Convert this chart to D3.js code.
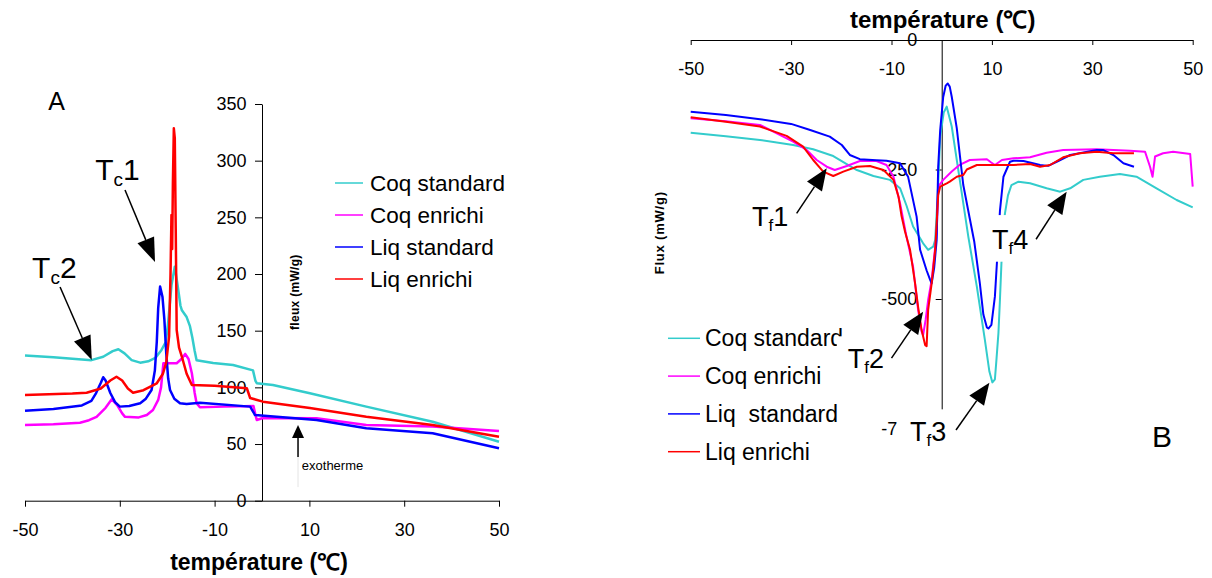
<!DOCTYPE html>
<html>
<head>
<meta charset="utf-8">
<script src="https://cdn.jsdelivr.net/npm/d3@7"></script>
<style>
  html, body { margin: 0; padding: 0; background: #fff; }
  svg { display: block; font-family: "Liberation Sans", Arial, sans-serif; }
</style>
</head>
<body>
<svg id="chart" width="1212" height="578"></svg>
<script>
// ---- Series names and colours ----
const seriesNames = ["Coq standard", "Coq enrichi", "Liq standard", "Liq enrichi"];
const seriesNamesB = ["Coq standard", "Coq enrichi", "Liq  standard", "Liq enrichi"];
const seriesColors = ["#33CCCC", "#FF00FF", "#0000FF", "#FF0000"];

// ---- Tick values ----
const ticksTempA = [-50, -30, -10, 10, 30, 50];
const ticksFluxA = [0, 50, 100, 150, 200, 250, 300, 350];
const ticksTempB = [-50, -30, -10, 10, 30, 50];
const ticksFluxB = [0, -250, -500, -750];

// ---- A : cooling curves, [température °C, flux mW/g] ----
const coqStdA = [[-50,128],[-44,126.5],[-38,124.5],[-36,124],[-33.5,127],[-31.5,132],[-30.3,133.6],[-29,130],[-27.5,124],[-25.7,121.8],[-24,123],[-22.5,126],[-21.2,133],[-20.3,140],[-19.8,157],[-19.1,190],[-18.4,206.5],[-17.8,190],[-17.2,172],[-16.9,168],[-15.9,162],[-15.2,154],[-14.7,144],[-14.2,132],[-13.8,124],[-10.3,121.5],[-6.1,119.7],[-1.9,115],[-1.4,106],[-1.1,103.6],[2.3,102],[10.1,94.8],[22,83],[36,69.7],[50,52]];
const coqEnrA = [[-50,66.8],[-44,67.5],[-38.4,68.8],[-36.5,71],[-34.9,74],[-33,82],[-31.7,89.5],[-30.5,84],[-29.5,77],[-28.9,74],[-26,73.5],[-24.3,75.6],[-23,80],[-21.9,88.9],[-21.3,100],[-20.8,121.3],[-18,121.3],[-17,125],[-16.2,129.5],[-15.5,125],[-14.8,112.4],[-14.2,95],[-13.8,86],[-13.1,82.4],[-8,83],[-1.8,83.6],[-1.4,76],[-1.1,71.2],[0.2,73],[11.5,72.7],[22,66.8],[36,65.5],[50,61.5]];
const liqStdA = [[-50,79.4],[-44,81],[-38,84],[-36,88],[-35,95],[-34,104],[-33.5,108.9],[-33,106],[-32,95],[-31,87],[-30,83],[-28,83.5],[-25.7,86],[-24.5,90],[-23.3,97.7],[-22.6,115],[-22.2,140],[-21.9,170],[-21.5,188.9],[-21,180],[-20.6,160],[-20.2,130],[-19.8,108],[-19.4,97.7],[-18.5,90],[-17.3,86],[-15.9,85.3],[-13.1,86.5],[-2.5,83],[-1.8,78],[-1.5,75.6],[3.1,74],[11.5,71.2],[22,63.9],[36,59.5],[50,46.2]];
const liqEnrA = [[-50,93.3],[-40,94.5],[-37,95.3],[-34,99],[-32,106],[-30.7,109.4],[-29.5,106],[-28.3,99],[-27.2,95.3],[-25,97.5],[-22.2,103.6],[-20.9,112],[-20.2,122],[-19.6,145],[-19.3,200],[-19.1,252],[-18.95,222],[-18.8,280],[-18.6,328.6],[-18.4,320],[-18.2,240],[-18,150.6],[-17.5,135],[-16.9,127],[-15.9,112],[-14.8,102],[-10,101.5],[-3.2,99.2],[-2.5,90.6],[0.2,87.4],[10.1,81.8],[22,74],[36,66.8],[50,56.5]];

// ---- B : heating curves, [température °C, flux mW/g] ----
const coqStdB = [[-50,-179],[-43,-186],[-36.2,-193],[-29.6,-202.7],[-25.6,-211],[-21.6,-224],[-16.9,-251],[-13.6,-262.5],[-10.3,-270],[-8.3,-286],[-7,-320],[-5.7,-360],[-3.7,-392.5],[-2.7,-405],[-1.7,-399],[-1.3,-386],[-0.8,-300],[-0.3,-186.7],[0.4,-140],[1,-128.7],[2,-167],[3.6,-270],[5.3,-379.7],[7,-476],[8.6,-579],[9.5,-640],[10.1,-661],[10.6,-655],[10.9,-618],[11.3,-566],[11.6,-502],[11.9,-431],[12.3,-360],[12.6,-334.6],[13.2,-300],[13.9,-280],[15.3,-273.5],[17.6,-276.7],[20.9,-286.3],[23.6,-292.8],[25.6,-286.3],[28.2,-270],[31.5,-263.9],[35.5,-258.7],[38.8,-263.9],[42.8,-286.3],[46.8,-308.9],[50,-323]];
const coqEnrB = [[-50,-151],[-43,-157],[-36.2,-164],[-29.6,-196],[-26.9,-212.4],[-24.9,-231.7],[-22.9,-244.6],[-21.3,-251],[-18.9,-243.2],[-16.3,-233.6],[-13,-233.6],[-11,-241.3],[-9.6,-263.9],[-8.3,-315],[-7,-380],[-5.7,-437.6],[-4.7,-521],[-4,-563],[-3.7,-569.5],[-3.2,-540],[-2.7,-502],[-2,-463],[-1,-373],[-0.7,-283],[0.3,-270],[2,-254],[3.6,-241],[5.6,-231.7],[9,-230.3],[9.8,-236],[10.6,-241.3],[12,-231.7],[14.3,-228.4],[17.6,-226.4],[20.9,-217.6],[24.2,-212.4],[30.9,-211],[37.5,-213.7],[40.5,-215.6],[41.5,-244.6],[42,-264],[42.5,-225],[44.1,-218.7],[46.1,-215.6],[49.5,-220],[50,-283]];
const liqStdB = [[-50,-138.4],[-43,-145],[-36.2,-153],[-30,-162],[-26.2,-173.7],[-22.3,-186.6],[-19.9,-202.7],[-18.3,-222],[-16.3,-230],[-13,-232],[-11,-233],[-8.3,-238],[-6.7,-263.8],[-5,-341],[-4.3,-405],[-3,-445],[-2.3,-463],[-2,-470],[-1.5,-440],[-1,-386],[-0.7,-244.6],[-0.3,-174],[0.3,-110],[0.8,-88],[1.2,-84],[1.6,-90],[2,-109.5],[3,-170],[4.3,-280],[5.6,-345],[6.5,-390],[7.6,-470],[8.3,-530],[9,-555],[9.3,-557],[9.9,-550],[10.6,-495],[11,-430],[11.3,-380],[11.6,-330],[12.3,-264],[13.6,-235],[14.3,-233],[16.3,-233.6],[19.6,-241.3],[21.2,-243],[22.9,-235],[25.6,-222],[30.9,-212.4],[32.2,-212.4],[34.2,-222],[36.2,-238],[38.3,-244.6]];
const liqEnrB = [[-50,-149],[-43,-158],[-36.2,-167],[-30.9,-185],[-27.6,-206],[-25.6,-231.7],[-23.6,-254],[-21.6,-262.5],[-19.6,-254],[-16.9,-244.6],[-14.3,-243.2],[-11.6,-251],[-9.6,-270],[-8.6,-302.5],[-8,-340],[-7.3,-370],[-6.3,-405],[-5.3,-470],[-4.7,-515],[-4,-560],[-3.3,-589],[-3,-591],[-2.7,-521],[-2,-470],[-1.3,-405],[-0.7,-300],[-0.3,-283],[1,-276.7],[1.6,-273.5],[3,-264],[4.3,-260.6],[5,-250],[7,-241.3],[11,-241.3],[14.3,-241.3],[17.6,-239.4],[19.6,-244.6],[21.6,-241.3],[24.2,-226.4],[27.5,-218.7],[30.9,-215.6],[34.2,-218.7],[38.3,-218.7]];

const seriesA = [coqStdA, coqEnrA, liqStdA, liqEnrA];
const seriesB = [coqStdB, coqEnrB, liqStdB, liqEnrB];

const svg = d3.select("#chart");
const FONT = '"Liberation Sans", Arial, sans-serif';

// ---------- helpers ----------
function arrow(g, x1, y1, x2, y2, headLen, headHalf, width) {
  const dx = x2 - x1, dy = y2 - y1, len = Math.hypot(dx, dy);
  const ux = dx / len, uy = dy / len;
  const bx = x2 - ux * headLen, by = y2 - uy * headLen;
  g.append("line").attr("x1", x1).attr("y1", y1).attr("x2", bx).attr("y2", by)
    .attr("stroke", "#000").attr("stroke-width", width);
  g.append("path")
    .attr("d", `M${x2},${y2}L${bx - uy * headHalf},${by + ux * headHalf}L${bx + uy * headHalf},${by - ux * headHalf}Z`)
    .attr("fill", "#000");
}
function subLabel(g, x, y, main, sub, tail, size, subSize, shift) {
  const t = g.append("text").attr("x", x).attr("y", y)
    .attr("font-size", size).attr("fill", "#000");
  t.append("tspan").text(main);
  t.append("tspan").attr("font-size", subSize).attr("dy", shift).text(sub);
  t.append("tspan").attr("dy", -shift).text(tail);
  return t;
}
function styleAxis(g, size) {
  g.selectAll("path.domain").attr("stroke", "#000").attr("stroke-width", 1);
  g.selectAll(".tick line").attr("stroke", "#000").attr("stroke-width", 1);
  g.selectAll(".tick text").attr("font-size", size).attr("font-family", FONT).attr("fill", "#000");
}

// ================= Panel A =================
const xA = d3.scaleLinear().domain([-50, 50]).range([25, 499]);
const yA = d3.scaleLinear().domain([0, 350]).range([500.7, 104]);
const gA = svg.append("g");

const axA_x = gA.append("g").attr("transform", `translate(0,${yA(0)})`)
  .call(d3.axisBottom(xA).tickValues(ticksTempA).tickSize(6).tickSizeOuter(0).tickPadding(17));
styleAxis(axA_x, 18);
axA_x.selectAll(".tick text").text(d => String(d));

const axA_y = gA.append("g").attr("transform", `translate(${xA(0)},0)`)
  .call(d3.axisLeft(yA).tickValues(ticksFluxA).tickSize(7).tickSizeOuter(0).tickPadding(8.5));
styleAxis(axA_y, 18);

const lineA = d3.line().x(d => xA(d[0])).y(d => yA(d[1]));
seriesA.forEach((s, i) => {
  gA.append("path").datum(s).attr("d", lineA)
    .attr("fill", "none").attr("stroke", seriesColors[i]).attr("stroke-width", 2.5)
    .attr("stroke-linejoin", "round");
});

gA.append("text").attr("x", xA(0) - 3).attr("y", 570).attr("text-anchor", "middle")
  .attr("font-size", 23).attr("font-weight", "bold").text("température (\u2103)");
gA.append("text").attr("transform", `translate(299,${yA(184)}) rotate(-90)`)
  .attr("text-anchor", "middle").attr("font-size", 12).attr("font-weight", "bold")
  .attr("letter-spacing", 0.3).text("fleux (mW/g)");

gA.append("text").attr("x", xA(-45.1)).attr("y", yA(344.6)).attr("font-size", 25).text("A");

// annotations
subLabel(gA, xA(-35.2), yA(282.8), "T", "c", "1", 30, 19, 6);
arrow(gA, xA(-28.9), yA(274.1), xA(-22.57), yA(210.6), 24, 9, 1.5);
subLabel(gA, xA(-48.5), yA(196.3), "T", "c", "2", 30, 19, 6);
arrow(gA, xA(-42.6), yA(188.6), xA(-35.9), yA(124.1), 24, 9, 1.5);

gA.append("line").attr("x1", xA(7.6)).attr("x2", xA(7.6)).attr("y1", yA(38.6)).attr("y2", yA(12))
  .attr("stroke", "#e4e4e4").attr("stroke-width", 1);
arrow(gA, xA(7.6), yA(38.6), xA(7.6), yA(66.8), 13, 6, 1.5);
gA.append("text").attr("x", xA(8.4)).attr("y", yA(27.1)).attr("font-size", 13).text("exotherme");

// legend A
seriesNames.forEach((n, i) => {
  const y = 183 + i * 32;
  gA.append("line").attr("x1", 335).attr("x2", 363).attr("y1", y).attr("y2", y)
    .attr("stroke", seriesColors[i]).attr("stroke-width", 1.5);
  gA.append("text").attr("x", 370).attr("y", y + 8).attr("font-size", 22.5).text(n);
});

// ================= Panel B =================
const xB = d3.scaleLinear().domain([-50, 50]).range([690.7, 1192.7]);
const yB = d3.scaleLinear().domain([-750, 0]).range([428.5, 40]);
const gB = svg.append("g");

const axB_x = gB.append("g").attr("transform", `translate(0,${yB(0)})`)
  .call(d3.axisBottom(xB).tickValues(ticksTempB).tickSize(5).tickSizeOuter(0).tickPadding(17));
styleAxis(axB_x, 18);
axB_x.selectAll(".tick text").text(d => String(d));

const axB_y = gB.append("g").attr("transform", `translate(${xB(0)},0)`)
  .call(d3.axisLeft(yB).tickValues(ticksFluxB).tickSize(6).tickSizeOuter(0).tickPadding(18.5));
styleAxis(axB_y, 18);
axB_y.selectAll(".tick text").text(d => String(d));

const lineB = d3.line().x(d => xB(d[0])).y(d => yB(d[1]));
seriesB.forEach((s, i) => {
  gB.append("path").datum(s).attr("d", lineB)
    .attr("fill", "none").attr("stroke", seriesColors[i]).attr("stroke-width", 2)
    .attr("stroke-linejoin", "round");
});

gB.append("text").attr("x", xB(0) + 1).attr("y", 28).attr("text-anchor", "middle")
  .attr("font-size", 24).attr("font-weight", "bold").text("température (\u2103)");
gB.append("text").attr("transform", `translate(664,${yB(-372)}) rotate(-90)`)
  .attr("text-anchor", "middle").attr("font-size", 13).attr("font-weight", "bold")
  .attr("letter-spacing", 0.8).text("Flux (mW/g)");

// legend B
seriesNamesB.forEach((n, i) => {
  const y = 338.3 + i * 37.8;
  gB.append("line").attr("x1", 668).attr("x2", 700).attr("y1", y).attr("y2", y)
    .attr("stroke", seriesColors[i]).attr("stroke-width", 1.5);
  gB.append("text").attr("x", 705).attr("y", y + 8).attr("font-size", 23).attr("xml:space", "preserve")
    .style("white-space", "pre").text(n);
});

// peak labels, each on an opaque box
function boxedLabel(g, x0, y0, x1, y1, tx, ty, sub, tail) {
  g.append("rect").attr("x", x0).attr("y", y0).attr("width", x1 - x0).attr("height", y1 - y0).attr("fill", "#fff");
  subLabel(g, tx, ty, "T", sub, tail, 27, 17, 5);
}
boxedLabel(gB, xB(-39.5), yB(-318), xB(-31), yB(-380), xB(-37.8), yB(-359), "f", "1");
arrow(gB, xB(-28.9), yB(-334.6), xB(-22.9), yB(-247.7), 22, 9, 1.5);
boxedLabel(gB, xB(-20.9), yB(-572), xB(-10), yB(-655), xB(-18.7), yB(-633.2), "f", "2");
arrow(gB, xB(-10), yB(-614), xB(-3.7), yB(-524.5), 22, 9, 1.5);
boxedLabel(gB, xB(-8.9), yB(-713), xB(4), yB(-790), xB(-6.3), yB(-774), "f", "3");
arrow(gB, xB(2.85), yB(-752.9), xB(9.5), yB(-661.6), 22, 9, 1.5);
boxedLabel(gB, xB(8.5), yB(-338), xB(18.3), yB(-428), xB(10), yB(-403.5), "f", "4");
arrow(gB, xB(18.8), yB(-384.7), xB(24.9), yB(-292.9), 22, 9, 1.5);

gB.append("text").attr("x", xB(41.9)).attr("y", yB(-785.7)).attr("font-size", 30).text("B");
</script>
</body>
</html>
